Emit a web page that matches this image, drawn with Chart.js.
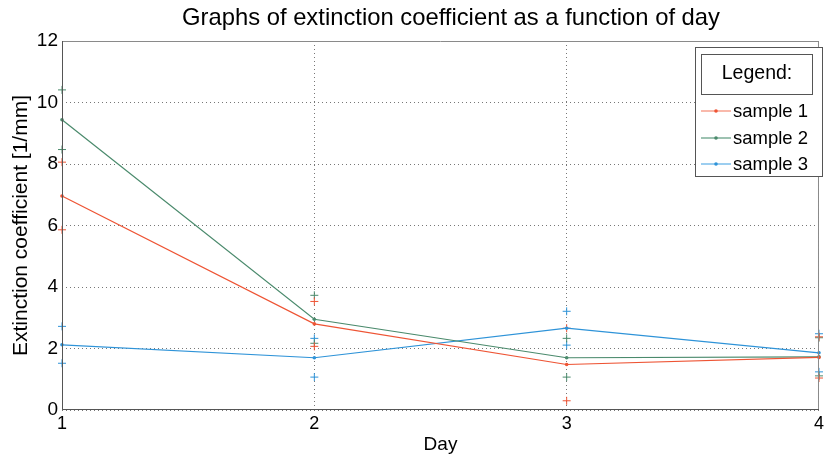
<!DOCTYPE html>
<html>
<head>
<meta charset="utf-8">
<script src="https://cdn.jsdelivr.net/npm/chart.js@4/dist/chart.umd.min.js"></script>
<style>
html,body{margin:0;padding:0;background:#fff;}
#wrap{width:827px;height:456px;position:relative;}
</style>
</head>
<body>
<div id="wrap"><canvas id="c" width="827" height="456"></canvas></div>
<script>
const days = [1, 2, 3, 4];
const xTicks = [1, 2, 3, 4];
const yTicks = [0, 2, 4, 6, 8, 10, 12];
const seriesNames = ['sample 1', 'sample 2', 'sample 3'];
const sample1 = [6.96, 2.80, 1.48, 1.71];
const sample2 = [9.44, 2.95, 1.70, 1.73];
const sample3 = [2.12, 1.70, 2.66, 1.86];
const err1 = [1.10, 0.73, 1.18, 0.67];
const err2 = [0.97, 0.78, 0.63, 0.62];
const err3 = [0.60, 0.63, 0.55, 0.62];
const colors = ['#ee5434', '#4a8a6c', '#2e93d8'];
const legendColors = ['#f58a72', '#5d9a7e', '#5aaee6'];
const titleText = 'Graphs of extinction coefficient as a function of day';
const legendTitle = 'Legend:';

const FONT = '"Liberation Sans", Arial, sans-serif';
const seriesVals = [sample1, sample2, sample3];
const seriesErr = [err1, err2, err3];

const datasets = [];
seriesVals.forEach((vals, i) => {
  datasets.push({
    label: seriesNames[i],
    data: days.map((d, k) => ({x: d, y: vals[k]})),
    borderColor: colors[i],
    backgroundColor: colors[i],
    borderWidth: 1.2,
    pointRadius: 1.8,
    pointHoverRadius: 1.8,
    pointBorderWidth: 0,
    tension: 0,
    showLine: true,
    clip: false,
    order: 1
  });
});
seriesVals.forEach((vals, i) => {
  const pts = [];
  days.forEach((d, k) => {
    pts.push({x: d, y: vals[k] + seriesErr[i][k]});
    pts.push({x: d, y: vals[k] - seriesErr[i][k]});
  });
  datasets.push({
    label: seriesNames[i] + ' err',
    data: pts,
    showLine: false,
    pointStyle: 'cross',
    pointRadius: 4,
    pointHoverRadius: 4,
    borderColor: colors[i],
    borderWidth: 1,
    clip: false,
    order: 2
  });
});

const framePlugin = {
  id: 'frame',
  beforeDraw(chart) {
    const ctx = chart.ctx;
    ctx.save();
    ctx.fillStyle = '#fff';
    ctx.fillRect(0, 0, chart.width, chart.height);
    ctx.restore();
  },
  afterDatasetsDraw(chart) {
    const {ctx, chartArea: a} = chart;
    ctx.save();
    ctx.strokeStyle = '#8a8a8a';
    ctx.lineWidth = 1;
    ctx.beginPath();
    ctx.moveTo(a.left + 0.5, a.top + 0.5);
    ctx.lineTo(a.right - 0.5, a.top + 0.5);
    ctx.lineTo(a.right - 0.5, a.bottom - 0.5);
    ctx.stroke();
    ctx.strokeStyle = '#555';
    ctx.beginPath();
    ctx.moveTo(a.left + 0.5, a.top);
    ctx.lineTo(a.left + 0.5, a.bottom - 0.5);
    ctx.lineTo(a.right, a.bottom - 0.5);
    ctx.stroke();
    ctx.fillStyle = '#000';
    ctx.font = '23.8px ' + FONT;
    ctx.textAlign = 'center';
    ctx.textBaseline = 'middle';
    ctx.fillText(titleText, 451, 18);
    const L = 695, T = 47, R = 822, B = 176;
    ctx.fillStyle = '#fff';
    ctx.fillRect(L, T, R - L, B - T);
    ctx.strokeStyle = '#555';
    ctx.strokeRect(L + 0.5, T + 0.5, R - L, B - T);
    ctx.strokeRect(701.5, 54.5, 111, 40);
    ctx.fillStyle = '#000';
    ctx.font = '19.5px ' + FONT;
    ctx.textAlign = 'center';
    ctx.fillText(legendTitle, 757, 74);
    const rows = [111, 138, 164];
    seriesNames.forEach((n, i) => {
      ctx.strokeStyle = legendColors[i];
      ctx.lineWidth = 1.2;
      ctx.beginPath();
      ctx.moveTo(701, rows[i]);
      ctx.lineTo(731, rows[i]);
      ctx.stroke();
      ctx.fillStyle = colors[i];
      ctx.beginPath();
      ctx.arc(716, rows[i], 1.8, 0, Math.PI * 2);
      ctx.fill();
      ctx.fillStyle = '#000';
      ctx.textAlign = 'left';
      ctx.font = '18.5px ' + FONT;
      ctx.fillText(n, 733, rows[i] + 1);
    });
    ctx.restore();
  }
};

new Chart(document.getElementById('c'), {
  type: 'line',
  data: {datasets},
  plugins: [framePlugin],
  options: {
    responsive: false,
    animation: false,
    devicePixelRatio: 1,
    layout: {padding: {top: 41, right: 4, left: 0, bottom: 0}},
    plugins: {legend: {display: false}, title: {display: false}, tooltip: {enabled: false}},
    scales: {
      x: {
        type: 'linear',
        min: 1, max: 4,
        afterBuildTicks: s => { s.ticks = xTicks.map(v => ({value: v})); },
        afterFit: s => { s.height = 46; },
        grid: {color: '#777', lineWidth: 1, drawTicks: false, tickLength: 0},
        border: {display: false, dash: [1, 3]},
        ticks: {color: '#000', font: {size: 18, family: FONT}, padding: 3, maxRotation: 0, autoSkip: false},
        title: {display: true, text: 'Day', color: '#000', font: {size: 19, family: FONT}, padding: {top: -5, bottom: 0}}
      },
      y: {
        min: 0, max: 12,
        afterBuildTicks: s => { s.ticks = yTicks.map(v => ({value: v})); },
        afterFit: s => { s.width = 62; },
        grid: {color: '#777', lineWidth: 1, drawTicks: false, tickLength: 0},
        border: {display: false, dash: [1, 3]},
        ticks: {color: '#000', font: {size: 19, family: FONT}, padding: 4},
        title: {display: true, text: 'Extinction coefficient [1/mm]', color: '#000', font: {size: 21, family: FONT}, padding: {top: 9, bottom: 0}}
      }
    }
  }
});
</script>
</body>
</html>
